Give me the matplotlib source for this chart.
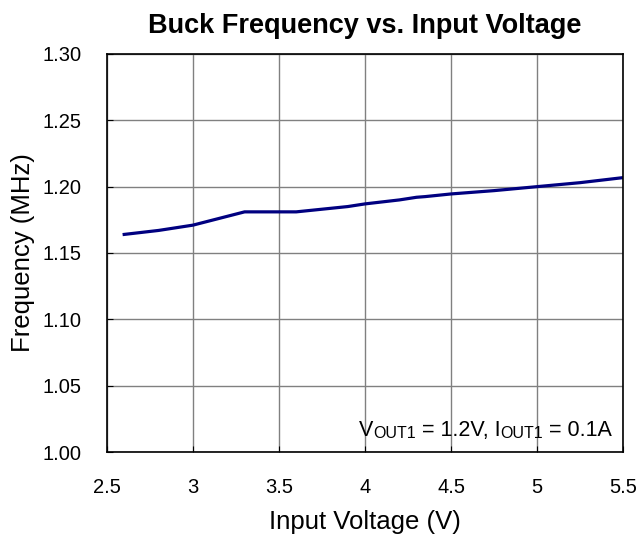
import matplotlib.pyplot as plt

plt.rcParams['font.family'] = ['Liberation Sans', 'DejaVu Sans']

# input voltage (V) and switching frequency (MHz)
vin = [2.6, 2.8, 3.0, 3.15, 3.3, 3.6, 3.9, 4.0, 4.2, 4.3, 4.35, 4.5, 4.75,
       5.0, 5.25, 5.5]
freq = [1.164, 1.167, 1.171, 1.176, 1.181, 1.181, 1.185, 1.187, 1.190,
        1.192, 1.1925, 1.1945, 1.197, 1.200, 1.203, 1.2068]

x_ticks = [2.5, 3, 3.5, 4, 4.5, 5, 5.5]
x_labels = ['2.5', '3', '3.5', '4', '4.5', '5', '5.5']
y_ticks = [1.00, 1.05, 1.10, 1.15, 1.20, 1.25, 1.30]

fig = plt.figure(figsize=(6.38, 5.36), dpi=100)
ax = fig.add_axes([0.1677, 0.1567, 0.8088, 0.7426])

ax.plot(vin, freq, color='#000080', lw=2.3)

ax.set_xlim(2.5, 5.5)
ax.set_ylim(1.00, 1.30)
ax.set_xticks(x_ticks)
ax.set_xticklabels(x_labels)
ax.set_yticks(y_ticks)
ax.set_yticklabels(['%.2f' % v for v in y_ticks])
ax.grid(True, color='#808080', lw=1.0)
ax.set_axisbelow(True)
for s in ax.spines.values():
    s.set_linewidth(1.2)
    s.set_color('black')
ax.tick_params(direction='in', length=4, labelsize=14.5)
ax.tick_params(axis='x', pad=19)
ax.tick_params(axis='y', pad=18)

ax.set_title('Buck Frequency vs. Input Voltage', fontsize=19.5,
             fontweight='bold', pad=15)
ax.set_xlabel('Input Voltage (V)', fontsize=18.5, labelpad=9)
ax.set_ylabel('Frequency (MHz)', fontsize=18.5, labelpad=6)

# annotation with small "OUT1" parts, chained right to left
pieces = [('V', 15.5), ('OUT1', 11.5), (' = 1.2V, I', 15.5), ('OUT1', 11.5),
          (' = 0.1A', 15.5)]
prev = ax.text(0.979, 0.028, pieces[-1][0], fontsize=pieces[-1][1],
               transform=ax.transAxes, ha='right', va='bottom')
for txt, size in reversed(pieces[:-1]):
    prev = ax.annotate(txt, xy=(0, 0), xycoords=prev, fontsize=size,
                       ha='right', va='bottom')

fig.savefig('out.png', dpi=100)
